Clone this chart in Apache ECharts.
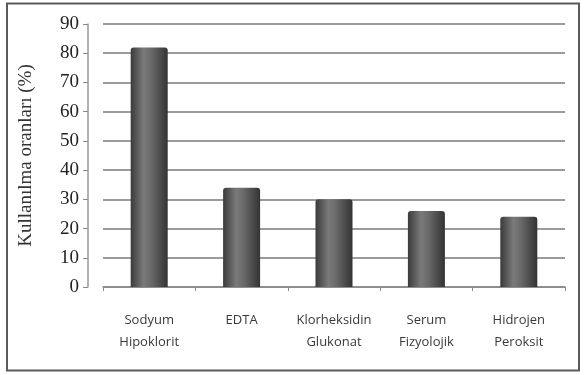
<!DOCTYPE html>
<html>
<head>
<meta charset="utf-8">
<script src="https://cdn.jsdelivr.net/npm/echarts@6/dist/echarts.min.js"></script>
<style>
  html, body { margin: 0; padding: 0; background: #fff; }
  #chart { width: 584px; height: 375px; }
</style>
</head>
<body>
<div id="chart"></div>
<script>
// Irrigation solutions and their usage rates
const categories = ['Sodyum\nHipoklorit', 'EDTA', 'Klorheksidin\nGlukonat', 'Serum\nFizyolojik', 'Hidrojen\nPeroksit'];
const usageRates = [82, 34, 30, 26, 24];
const yTicks = { min: 0, max: 90, interval: 10 };
const yTitle = 'Kullanılma oranları (%)';

const chart = echarts.init(document.getElementById('chart'), null, { renderer: 'canvas' });

// cylinder-like shading across each bar
const cylinderFill = new echarts.graphic.LinearGradient(0, 0, 1, 0, [
  { offset: 0, color: '#3a3a3a' },
  { offset: 0.35, color: '#7a7a7a' },
  { offset: 0.55, color: '#6a6a6a' },
  { offset: 1, color: '#333333' }
]);

chart.setOption({
  animation: false,
  backgroundColor: '#ffffff',
  graphic: [{
    type: 'rect',
    shape: { x: 7, y: 3.5, width: 572, height: 367 },
    style: { fill: 'none', stroke: '#5a5a5a', lineWidth: 2 },
    silent: true
  }],
  grid: { left: 103, right: 19, top: 24, bottom: 88 },
  xAxis: {
    type: 'category',
    data: categories,
    axisLine: { show: true, lineStyle: { color: '#8a8a8a', width: 1.5 } },
    axisTick: { show: true, length: 4, lineStyle: { color: '#8a8a8a' } },
    axisLabel: {
      margin: 22,
      fontFamily: 'Open Sans',
      fontSize: 13,
      color: '#3a3a3a',
      lineHeight: 22,
      interval: 0
    }
  },
  yAxis: {
    type: 'value',
    min: yTicks.min,
    max: yTicks.max,
    interval: yTicks.interval,
    offset: 15,
    name: yTitle,
    nameLocation: 'middle',
    nameGap: 52,
    nameTextStyle: { fontFamily: 'Liberation Serif', fontSize: 19, color: '#333' },
    axisLine: { show: true, lineStyle: { color: '#9a9a9a', width: 1.5 } },
    axisTick: { show: true, length: 5, lineStyle: { color: '#8a8a8a' } },
    axisLabel: { fontFamily: 'Liberation Serif', fontSize: 19, color: '#222', margin: 9 },
    splitLine: { show: true, lineStyle: { color: '#7a7a7a', width: 1.5 } }
  },
  series: [{
    type: 'bar',
    data: usageRates,
    barWidth: 37,
    itemStyle: {
      color: cylinderFill,
      borderRadius: [3, 3, 0, 0]
    }
  }]
});
</script>
</body>
</html>
